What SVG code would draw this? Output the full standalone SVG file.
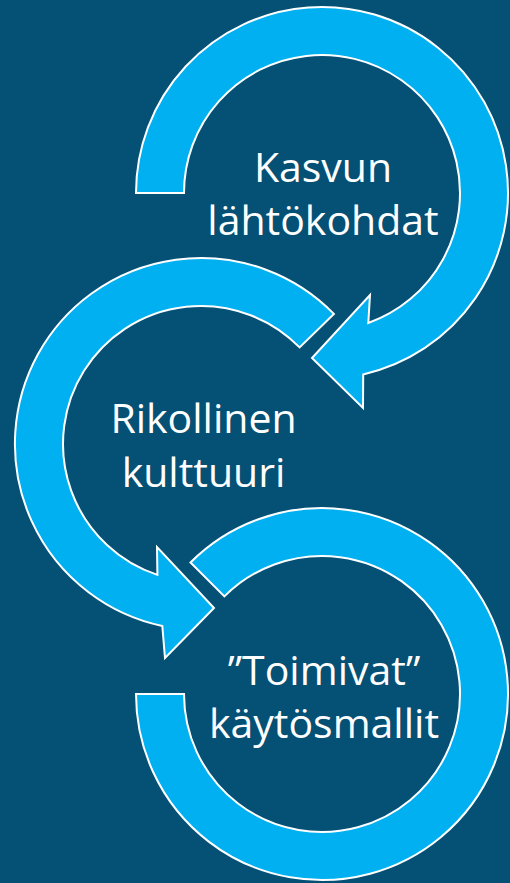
<svg xmlns="http://www.w3.org/2000/svg" width="510" height="883" viewBox="0 0 510 883">
  <style>
    .arrow { fill: #00B0F0; stroke: #FFFFFF; stroke-width: 2; stroke-linejoin: miter; }
    .label { fill: #FFFFFF; font-family: "Open Sans", "Liberation Sans", sans-serif; font-size: 41px; text-anchor: middle; }
  </style>
  <rect x="0" y="0" width="510" height="883" fill="#055075"/>
  <g id="connectors">
    <path id="arrow-top" class="arrow" d="M 136,193 A 186 186 0 1 1 363.2,374.4 L 363,408 L 312,358 L 370,295 L 368.3,323 A 138 138 0 1 0 184,193 Z"/>
    <path id="arrow-middle" class="arrow" d="M 333.9,313.9 A 186 186 0 1 0 162.3,625.9 L 165,658 L 214,608 L 157,547 L 157.4,574.9 A 138 138 0 1 1 299.6,347.4 Z"/>
    <path id="arrow-bottom" class="arrow" d="M 190.5,562.5 A 186 186 0 1 1 136,694 L 184,694 A 138 138 0 1 0 224.4,596.4 Z"/>
  </g>
  <g id="node-kasvun">
    <text class="label" x="323" y="182">Kasvun</text>
    <text class="label" x="323" y="235">lähtökohdat</text>
  </g>
  <g id="node-rikollinen">
    <text class="label" x="203.5" y="433">Rikollinen</text>
    <text class="label" x="203.5" y="487">kulttuuri</text>
  </g>
  <g id="node-toimivat">
    <text class="label" x="324" y="685">”Toimivat”</text>
    <text class="label" x="324" y="738">käytösmallit</text>
  </g>
</svg>
